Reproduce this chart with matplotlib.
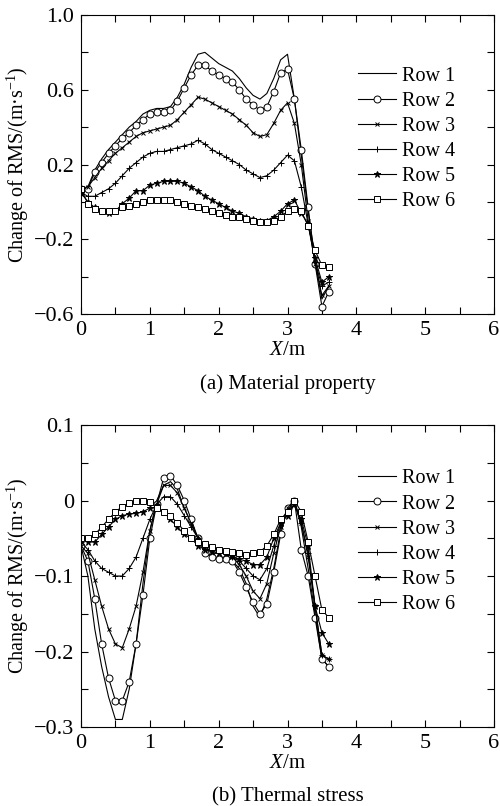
import matplotlib
matplotlib.use("Agg")
import matplotlib.pyplot as plt
from matplotlib.ticker import MultipleLocator, FixedLocator, FuncFormatter

plt.rcParams['font.family'] = ['Liberation Serif', 'DejaVu Serif']
plt.rcParams['mathtext.fontset'] = 'custom'
plt.rcParams['mathtext.rm'] = 'Liberation Serif'
plt.rcParams['mathtext.it'] = 'Liberation Serif:italic'

# X positions along the row (m)
x = [0.0, 0.1, 0.2, 0.3, 0.4, 0.5, 0.6, 0.7, 0.8, 0.9,
     1.0, 1.1, 1.2, 1.3, 1.4, 1.5, 1.6, 1.7, 1.8, 1.9,
     2.0, 2.1, 2.2, 2.3, 2.4, 2.5, 2.6, 2.7, 2.8, 2.9,
     3.0, 3.1, 3.2, 3.3, 3.4, 3.5, 3.6]

labels = ['Row 1', 'Row 2', 'Row 3', 'Row 4', 'Row 5', 'Row 6']

# (a) Material property
mat_row1 = [0.06, 0.08, 0.17, 0.23, 0.28, 0.32, 0.36, 0.40, 0.43, 0.47,
            0.49, 0.50, 0.50, 0.51, 0.56, 0.63, 0.72, 0.79, 0.80, 0.77,
            0.74, 0.72, 0.70, 0.66, 0.61, 0.57, 0.55, 0.58, 0.66, 0.76,
            0.79, 0.55, 0.25, -0.05, -0.30, -0.52, -0.45]
mat_row2 = [0.07, 0.07, 0.16, 0.21, 0.26, 0.30, 0.34, 0.37, 0.41, 0.44,
            0.47, 0.48, 0.48, 0.49, 0.54, 0.61, 0.68, 0.73, 0.73, 0.70,
            0.68, 0.66, 0.64, 0.60, 0.55, 0.52, 0.49, 0.51, 0.59, 0.69,
            0.71, 0.55, 0.28, -0.03, -0.33, -0.56, -0.48]
mat_row3 = [0.06, 0.08, 0.13, 0.18, 0.22, 0.26, 0.29, 0.32, 0.35, 0.37,
            0.38, 0.39, 0.40, 0.41, 0.44, 0.48, 0.52, 0.56, 0.55, 0.53,
            0.51, 0.49, 0.47, 0.44, 0.41, 0.37, 0.35, 0.36, 0.42, 0.49,
            0.53, 0.42, 0.20, -0.10, -0.33, -0.50, -0.45]
mat_row4 = [0.05, 0.03, 0.03, 0.05, 0.07, 0.10, 0.14, 0.18, 0.21, 0.24,
            0.26, 0.27, 0.27, 0.28, 0.29, 0.30, 0.31, 0.33, 0.31, 0.28,
            0.26, 0.24, 0.22, 0.20, 0.17, 0.15, 0.13, 0.14, 0.17, 0.21,
            0.25, 0.22, 0.08, -0.12, -0.32, -0.45, -0.43]
mat_row5 = [0.05, 0.00, -0.03, -0.05, -0.06, -0.05, -0.01, 0.02, 0.06, 0.06,
            0.09, 0.10, 0.11, 0.11, 0.11, 0.10, 0.08, 0.06, 0.03, 0.01,
            -0.01, -0.03, -0.05, -0.06, -0.08, -0.09, -0.10, -0.10, -0.08, -0.05,
            -0.01, 0.01, -0.06, -0.12, -0.30, -0.43, -0.40]
mat_row6 = [0.07, -0.01, -0.04, -0.05, -0.05, -0.05, -0.03, -0.02, -0.01, 0.00,
            0.01, 0.01, 0.01, 0.01, 0.00, -0.01, -0.02, -0.03, -0.04, -0.05,
            -0.06, -0.07, -0.08, -0.08, -0.09, -0.10, -0.11, -0.11, -0.10, -0.08,
            -0.05, -0.04, -0.05, -0.13, -0.26, -0.34, -0.35]

# (b) Thermal stress
th_row1 = [-0.06, -0.10, -0.17, -0.22, -0.26, -0.29, -0.29, -0.25, -0.19, -0.11,
           -0.04, 0.00, 0.02, 0.025, 0.015, -0.01, -0.03, -0.05, -0.065, -0.075,
           -0.075, -0.075, -0.08, -0.09, -0.11, -0.14, -0.155, -0.13, -0.09, -0.04,
           -0.01, 0.00, -0.035, -0.09, -0.15, -0.21, -0.22]
th_row2 = [-0.06, -0.08, -0.13, -0.19, -0.235, -0.265, -0.265, -0.24, -0.19, -0.125,
           -0.05, -0.005, 0.03, 0.033, 0.02, 0.00, -0.025, -0.05, -0.07, -0.075,
           -0.077, -0.077, -0.08, -0.095, -0.115, -0.135, -0.15, -0.137, -0.095, -0.045,
           -0.01, 0.00, -0.065, -0.10, -0.155, -0.21, -0.22]
th_row3 = [-0.06, -0.07, -0.105, -0.14, -0.17, -0.19, -0.195, -0.17, -0.14, -0.095,
           -0.04, -0.005, 0.02, 0.02, 0.01, -0.01, -0.03, -0.05, -0.06, -0.07,
           -0.07, -0.07, -0.075, -0.085, -0.10, -0.12, -0.13, -0.11, -0.07, -0.035,
           -0.01, 0.00, -0.03, -0.075, -0.14, -0.205, -0.21]
th_row4 = [-0.055, -0.065, -0.08, -0.09, -0.095, -0.10, -0.10, -0.09, -0.075, -0.05,
           -0.025, -0.005, 0.005, 0.005, -0.005, -0.02, -0.035, -0.05, -0.06, -0.065,
           -0.068, -0.07, -0.075, -0.08, -0.09, -0.10, -0.105, -0.09, -0.06, -0.03,
           -0.015, -0.005, -0.03, -0.07, -0.14, -0.205, -0.21]
th_row5 = [-0.05, -0.055, -0.055, -0.045, -0.035, -0.025, -0.02, -0.018, -0.017, -0.015,
           -0.01, -0.01, -0.015, -0.025, -0.035, -0.045, -0.05, -0.06, -0.065, -0.067,
           -0.07, -0.07, -0.073, -0.078, -0.08, -0.085, -0.085, -0.075, -0.05, -0.03,
           -0.02, -0.005, -0.025, -0.06, -0.14, -0.175, -0.19]
th_row6 = [-0.05, -0.05, -0.045, -0.035, -0.025, -0.015, -0.008, -0.003, 0.00, 0.00,
           -0.002, -0.01, -0.015, -0.02, -0.03, -0.04, -0.05, -0.055, -0.058, -0.062,
           -0.065, -0.067, -0.068, -0.07, -0.072, -0.07, -0.068, -0.06, -0.045, -0.025,
           -0.015, 0.00, -0.015, -0.055, -0.10, -0.145, -0.155]

# y tick positions for each panel
mat_major = [-0.6, -0.2, 0.2, 0.6, 1.0]
mat_minor = [-0.4, 0.0, 0.4, 0.8]
th_major = [-0.3, -0.2, -0.1, 0.0, 0.1]
th_minor = [-0.25, -0.15, -0.05, 0.05]

styles = [
    dict(marker=None),
    dict(marker='o', markersize=5, markerfacecolor='white'),
    dict(marker='x', markersize=3.5),
    dict(marker='+', markersize=5),
    dict(marker='*', markersize=4.5),
    dict(marker='s', markersize=5, markerfacecolor='white'),
]


def fmt(v, pos):
    if abs(v) < 1e-9:
        return '0'
    s = '%.1f' % v
    return s.replace('-', '\u2212')


def draw_panel(ax, rows, ylim, major, minor, caption, leg_y):
    for y, lab, st in zip(rows, labels, styles):
        ax.plot(x, y, color='black', linewidth=0.8, markeredgewidth=0.7,
                label=lab, **st)
    ax.set_xlim(0, 6)
    ax.set_ylim(*ylim)
    ax.xaxis.set_major_locator(MultipleLocator(1))
    ax.xaxis.set_minor_locator(MultipleLocator(0.5))
    ax.yaxis.set_major_locator(FixedLocator(major))
    ax.yaxis.set_minor_locator(FixedLocator(minor))
    ax.yaxis.set_major_formatter(FuncFormatter(fmt))
    ax.tick_params(which='both', direction='in', top=True, right=True,
                   labelsize=16, width=0.8)
    ax.tick_params(which='major', length=5, pad=5)
    ax.tick_params(which='minor', length=5)
    for sp in ax.spines.values():
        sp.set_linewidth(0.8)
    ax.set_xlabel('$X$/m', fontsize=15, labelpad=1)
    ax.set_ylabel('Change of RMS/(m·s$^{-1}$)', fontsize=14.5, labelpad=2)
    ax.legend(loc='upper left', bbox_to_anchor=(0.65, leg_y), frameon=False,
              fontsize=14.5, handlelength=1.9, handletextpad=0.3,
              labelspacing=0.3, borderaxespad=0)
    ax.text(0.5, -0.2, caption, transform=ax.transAxes, ha='center',
            va='top', fontsize=15)


fig = plt.figure(figsize=(5.0, 8.06), dpi=100)
ax1 = fig.add_axes([0.162, 0.6104, 0.826, 0.3710])
ax2 = fig.add_axes([0.162, 0.0980, 0.826, 0.3747])

draw_panel(ax1, [mat_row1, mat_row2, mat_row3, mat_row4, mat_row5, mat_row6],
           (-0.6, 1.0), mat_major, mat_minor, '(a) Material property', 0.855)
draw_panel(ax2, [th_row1, th_row2, th_row3, th_row4, th_row5, th_row6],
           (-0.3, 0.1), th_major, th_minor, '(b) Thermal stress', 0.88)

fig.savefig('out.png', dpi=100)
